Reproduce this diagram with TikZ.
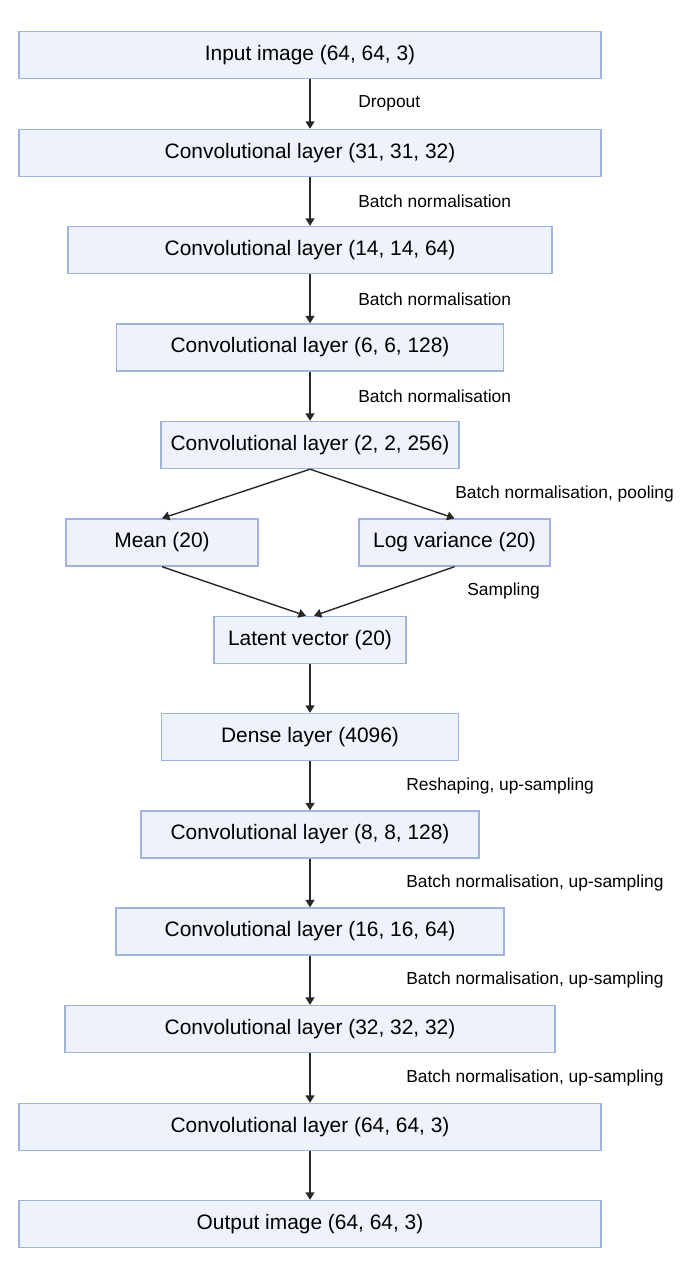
\documentclass[tikz,border=0pt]{standalone}
\usepackage{fontspec}
\setmainfont{Liberation Sans}
\usetikzlibrary{arrows.meta}
\definecolor{layerfill}{RGB}{237,242,251}
\definecolor{layerdraw}{RGB}{160,178,222}
\definecolor{arrowgray}{RGB}{40,40,40}

\begin{document}
\begin{tikzpicture}[
    x=0.02cm, y=-0.02cm,
    layer/.style={rectangle, draw=layerdraw, fill=layerfill, line width=0.8pt, minimum height=0.94cm, inner sep=0pt, font=\fontsize{11.9}{14}\selectfont},
    note/.style={anchor=west, inner sep=0pt, font=\fontsize{9.9}{12}\selectfont},
    every edge/.style={draw=arrowgray, line width=0.8pt, -{Triangle[length=4.2pt, width=5pt]}}
]
\useasboundingbox (0,0) rectangle (694,1280);

% Encoder
\node[layer, minimum width=11.64cm] (In) at (310, 55) {Input image (64, 64, 3)};
\node[layer, minimum width=11.64cm] (C-1) at (310, 153) {Convolutional layer (31, 31, 32)};
\node[layer, minimum width=9.68cm] (C-2) at (310, 250) {Convolutional layer (14, 14, 64)};
\node[layer, minimum width=7.74cm] (C-3) at (310, 347.5) {Convolutional layer (6, 6, 128)};
\node[layer, minimum width=5.96cm] (C-4) at (310, 445) {Convolutional layer (2, 2, 256)};

\node[layer, minimum width=3.84cm] (Mean) at (162, 542.5) {Mean (20)};
\node[layer, minimum width=3.82cm] (LogVar) at (454.5, 542.5) {Log variance (20)};
\node[layer, minimum width=3.84cm] (Latent) at (310, 640) {Latent vector (20)};

% Decoder
\node[layer, minimum width=5.94cm] (Dense) at (310, 737) {Dense layer (4096)};
\node[layer, minimum width=6.76cm] (D-1) at (310, 834.5) {Convolutional layer (8, 8, 128)};
\node[layer, minimum width=7.76cm] (D-2) at (310, 931.5) {Convolutional layer (16, 16, 64)};
\node[layer, minimum width=9.8cm] (D-3) at (310, 1029) {Convolutional layer (32, 32, 32)};
\node[layer, minimum width=11.64cm] (D-4) at (310, 1127) {Convolutional layer (64, 64, 3)};
\node[layer, minimum width=11.64cm] (Out) at (310, 1224) {Output image (64, 64, 3)};

% Connections
\foreach \a/\b in {In/C-1, C-1/C-2, C-2/C-3, C-3/C-4, Latent/Dense, Dense/D-1, D-1/D-2, D-2/D-3, D-3/D-4, D-4/Out}
    \path (\a) edge (\b);

\path (C-4.south) edge (Mean.north);
\path (C-4.south) edge (LogVar.north);
\path (Mean.south) edge ([xshift=-0.08cm]Latent.north);
\path (LogVar.south) edge ([xshift=0.08cm]Latent.north);

% Labels
\node[note] (L-1) at (358, 103) {Dropout};
\node[note] (L-2) at (358, 201) {Batch normalisation};
\node[note] (L-3) at (358, 299) {Batch normalisation};
\node[note] (L-4) at (358, 396) {Batch normalisation};
\node[note] (L-5) at (455, 494) {Batch normalisation, pooling};
\node[note] (L-6) at (467, 591) {Sampling};
\node[note] (L-7) at (406, 786) {Reshaping, up-sampling};
\node[note] (L-8) at (406, 883) {Batch normalisation, up-sampling};
\node[note] (L-9) at (406, 980) {Batch normalisation, up-sampling};
\node[note] (L-10) at (406, 1078) {Batch normalisation, up-sampling};

\end{tikzpicture}
\end{document}
